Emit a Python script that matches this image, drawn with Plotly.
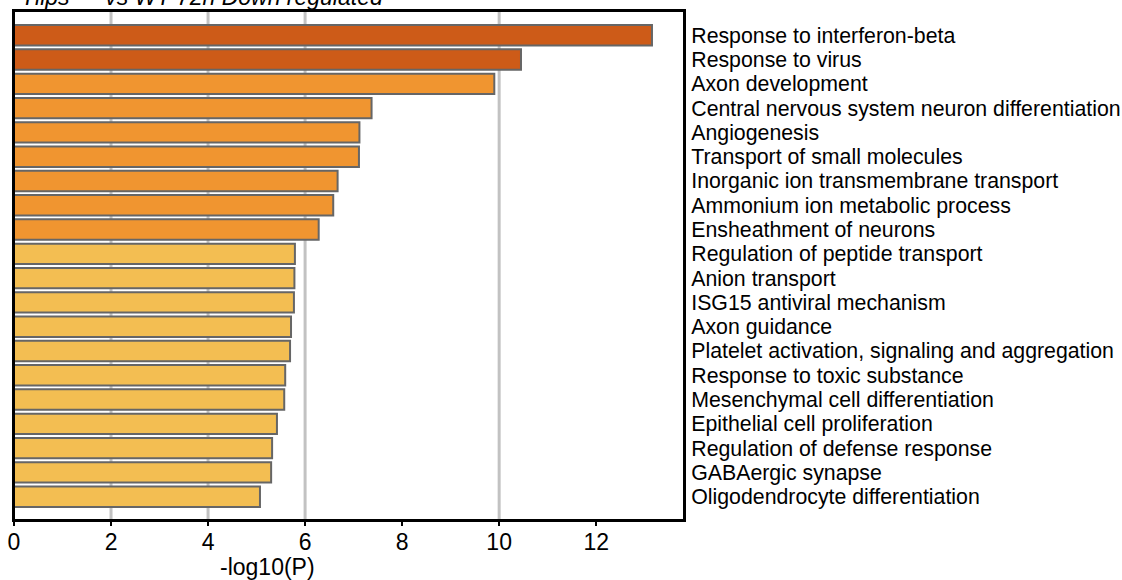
import plotly.graph_objects as go

terms = [
    "Response to interferon-beta",
    "Response to virus",
    "Axon development",
    "Central nervous system neuron differentiation",
    "Angiogenesis",
    "Transport of small molecules",
    "Inorganic ion transmembrane transport",
    "Ammonium ion metabolic process",
    "Ensheathment of neurons",
    "Regulation of peptide transport",
    "Anion transport",
    "ISG15 antiviral mechanism",
    "Axon guidance",
    "Platelet activation, signaling and aggregation",
    "Response to toxic substance",
    "Mesenchymal cell differentiation",
    "Epithelial cell proliferation",
    "Regulation of defense response",
    "GABAergic synapse",
    "Oligodendrocyte differentiation",
]
neg_log10_p = [13.15, 10.45, 9.90, 7.37, 7.12, 7.11, 6.67, 6.58, 6.28,
               5.79, 5.78, 5.77, 5.71, 5.69, 5.59, 5.57, 5.42, 5.32, 5.30, 5.07]
bar_colors = ["#CD5B18"] * 2 + ["#F09530"] * 7 + ["#F3BE52"] * 11
x_ticks = [0, 2, 4, 6, 8, 10, 12]
grid_x = [2, 4, 6, 10]
title_text = "Tlips — vs WT 72h Down regulated"
x_title = "-log10(P)"

idx = list(range(len(terms)))

fig = go.Figure()
fig.add_trace(go.Bar(
    x=neg_log10_p, y=idx, orientation="h",
    marker=dict(color=bar_colors, line=dict(color="#666666", width=2)),
    width=0.84,
))

for gx in grid_x:
    fig.add_shape(type="line", xref="x", yref="paper", x0=gx, x1=gx, y0=0, y1=1,
                  line=dict(color="#C2C2C2", width=3), layer="below")

# plot frame
fig.add_shape(type="rect", xref="paper", yref="paper", x0=0, x1=1, y0=0, y1=1,
              line=dict(color="black", width=2), fillcolor="rgba(0,0,0,0)", layer="above")

fig.update_layout(
    width=1122, height=580,
    margin=dict(l=14, r=438, t=11, b=60, autoexpand=False),
    paper_bgcolor="white", plot_bgcolor="white",
    showlegend=False,
    font=dict(family="Liberation Sans, Arial, Helvetica", color="black"),
)
fig.update_xaxes(
    range=[0, 13.81], tickvals=x_ticks, ticktext=[str(t) for t in x_ticks],
    showgrid=False, zeroline=False, automargin=False, ticklabeloverflow="allow",
    showline=True, linecolor="black", linewidth=2, mirror=True,
    ticks="outside", ticklen=4, tickwidth=1.5, tickcolor="black",
    ticklabelstandoff=-4,
    tickfont=dict(family="Liberation Sans, Arial, Helvetica", size=23),
)
fig.update_yaxes(
    range=[19.96, -1.0], tickvals=idx, ticktext=terms, side="right",
    showgrid=False, zeroline=False, automargin=False, ticklabeloverflow="allow",
    showline=True, linecolor="black", linewidth=2, mirror=True,
    ticks="", ticklabelstandoff=1,
    tickfont=dict(family="Liberation Sans, Arial, Helvetica", size=21.3),
)

fig.add_annotation(text=x_title, xref="paper", yref="paper", x=0.378, y=-0.062,
                   xanchor="center", yanchor="top", showarrow=False,
                   font=dict(family="Liberation Sans, Arial, Helvetica", size=23))
fig.add_annotation(text="<i>" + title_text + "</i>", xref="paper", yref="paper",
                   x=0.008, y=0.998, xanchor="left", yanchor="bottom", showarrow=False,
                   font=dict(family="Liberation Sans, Arial, Helvetica", size=23))

fig.write_html("out.html", config={"displayModeBar": False},
               post_script="document.body.style.margin='0';")
